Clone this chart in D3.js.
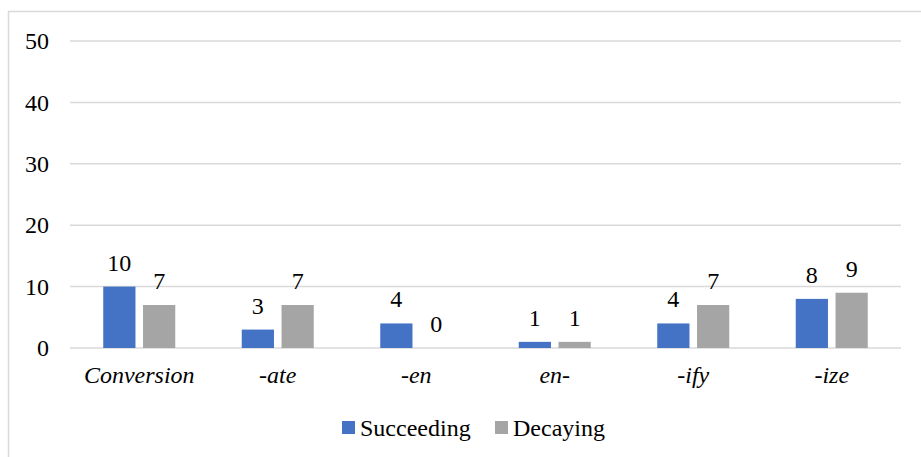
<!DOCTYPE html>
<html>
<head>
<meta charset="utf-8">
<script src="https://cdn.jsdelivr.net/npm/d3@7"></script>
<style>
html,body{margin:0;padding:0;background:#fff;}
svg{display:block;}
</style>
</head>
<body>
<div id="wrap"></div>
<script>
const categories = ["Conversion", "-ate", "-en", "en-", "-ify", "-ize"];
const seriesNames = ["Succeeding", "Decaying"];
const succeeding = [10, 3, 4, 1, 4, 8];
const decaying = [7, 7, 0, 1, 7, 9];
const yTicks = [0, 10, 20, 30, 40, 50];
const colors = ["#4472c4", "#a5a5a5"];

(function () {
const FONT = "Liberation Serif";
const W = 921, H = 457;
const svg = d3.select("#wrap").append("svg").attr("width", W).attr("height", H)
  .attr("font-family", FONT).style("font-family", FONT);

function serif(sel) {
  return sel.attr("font-family", FONT).style("font-family", FONT)
    .attr("font-size", 24).style("font-size", "24px").attr("fill", "#000");
}

// outer border
svg.append("rect").attr("x", 8.5).attr("y", 11.5).attr("width", W + 20).attr("height", H + 20)
  .attr("fill", "none").attr("stroke", "#d9d9d9").attr("stroke-width", 1.5);

const pLeft = 70, pRight = 901, pTop = 41, pBottom = 348;
const x0 = d3.scaleBand().domain(categories).range([pLeft, pRight]).padding(0);
const y = d3.scaleLinear().domain([0, 50]).range([pBottom, pTop]);
const groupW = 72;
const x1 = d3.scaleBand().domain(seriesNames).range([0, groupW]).paddingInner(0.19);

// gridlines
svg.append("g").selectAll("line").data(yTicks).join("line")
  .attr("x1", pLeft).attr("x2", pRight)
  .attr("y1", d => y(d)).attr("y2", d => y(d))
  .attr("stroke", "#d9d9d9").attr("stroke-width", 1.5);

// y axis labels
const yAxis = d3.axisLeft(y).tickValues(yTicks).tickSize(0).tickPadding(21);
const gy = svg.append("g").attr("transform", `translate(${pLeft},0)`).call(yAxis);
gy.attr("font-family", FONT).attr("font-size", 24);
gy.select(".domain").remove();
serif(gy.selectAll("text"));

// x axis labels
const xAxis = d3.axisBottom(x0).tickSize(0).tickPadding(18);
const gx = svg.append("g").attr("transform", `translate(0,${pBottom})`).call(xAxis);
gx.attr("font-family", FONT).attr("font-size", 24);
gx.select(".domain").remove();
serif(gx.selectAll("text")).attr("font-style", "italic").style("font-style", "italic");

const data = categories.map((c, i) => ({cat: c, vals: [
  {s: seriesNames[0], v: succeeding[i], c: colors[0]},
  {s: seriesNames[1], v: decaying[i], c: colors[1]}
]}));

const off = (x0.bandwidth() - groupW) / 2;
const groups = svg.append("g").selectAll("g").data(data).join("g")
  .attr("transform", d => `translate(${x0(d.cat) + off},0)`);

groups.selectAll("rect").data(d => d.vals).join("rect")
  .attr("x", d => x1(d.s)).attr("width", x1.bandwidth())
  .attr("y", d => y(d.v)).attr("height", d => y(0) - y(d.v))
  .attr("fill", d => d.c);

serif(groups.selectAll("text.lbl").data(d => d.vals).join("text").attr("class", "lbl")
  .attr("x", d => x1(d.s) + x1.bandwidth() / 2)
  .attr("y", d => y(d.v) - 16)
  .attr("text-anchor", "middle"))
  .text(d => d.v);

// legend
const legend = svg.append("g");
const legItems = [{name: seriesNames[0], c: colors[0], x: 342}, {name: seriesNames[1], c: colors[1], x: 495}];
legItems.forEach(it => {
  legend.append("rect").attr("x", it.x).attr("y", 421).attr("width", 13).attr("height", 13).attr("fill", it.c);
  serif(legend.append("text").attr("x", it.x + 18).attr("y", 436)).text(it.name);
});
})();
</script>
</body>
</html>
